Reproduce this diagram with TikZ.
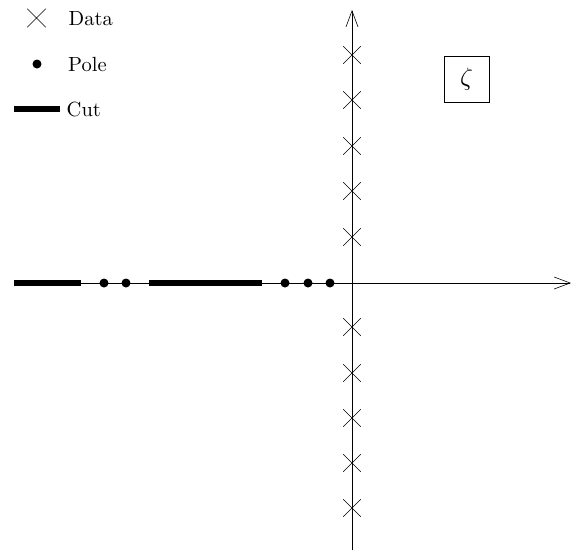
\documentclass[tikz,border=0pt]{standalone}
\usepackage{fontspec}
\setmainfont{lmroman10-regular.otf}
\usepackage{graphicx}
\usetikzlibrary{shapes.misc,arrows.meta}
\begin{document}
\begin{tikzpicture}[x=1pt,y=-1pt,
  datamark/.style={cross out,draw,line width=0.55pt,minimum size=17pt,inner sep=0pt},
  polemark/.style={circle,fill,minimum size=9pt,inner sep=0pt},
  cutline/.style={line width=6pt},
  axisline/.style={line width=0.6pt,-{Straight Barb[length=16pt,width=12pt,line width=0.6pt]}},
  lbl/.style={anchor=base west,inner sep=0pt,font=\fontsize{20.5}{24}\selectfont}]
\useasboundingbox (0,0) rectangle (572,550);
% axes
\coordinate (xl) at (14,283);
\coordinate (xr) at (571,283);
\coordinate (yb) at (352,550);
\coordinate (yt) at (352,10);
\draw[axisline] (xl) -- (xr);
\draw[axisline] (yb) -- (yt);
% cuts
\coordinate (c1a) at (14,283); \coordinate (c1b) at (81,283);
\coordinate (c2a) at (149,283); \coordinate (c2b) at (262,283);
\draw[cutline] (c1a) -- (c1b);
\draw[cutline] (c2a) -- (c2b);
% poles
\node[polemark] (p1) at (104,283) {};
\node[polemark] (p2) at (126,283) {};
\node[polemark] (p3) at (285,283) {};
\node[polemark] (p4) at (308,283) {};
\node[polemark] (p5) at (330,283) {};
% data
\foreach \i/\y in {1/55,2/100,3/146,4/191,5/237,6/327,7/373,8/418,9/463,10/508}
  \node[datamark] (d\i) at (352,\y) {};
% zeta box
\node[draw,line width=0.5pt,minimum width=45pt,minimum height=46pt,inner sep=0pt] (zeta) at (466.5,79) {\scalebox{2.5}{$\zeta$}};
% legend
\node[datamark,minimum size=18pt] (ld) at (36.5,18) {};
\node[lbl] (ldt) at (68.5,25) {Data};
\node[polemark] (lp) at (37,64) {};
\node[lbl] (lpt) at (68,71) {Pole};
\coordinate (lca) at (14,109); \coordinate (lcb) at (60,109);
\draw[cutline] (lca) -- (lcb);
\node[lbl] (lct) at (66.5,116) {Cut};
\end{tikzpicture}
\end{document}
